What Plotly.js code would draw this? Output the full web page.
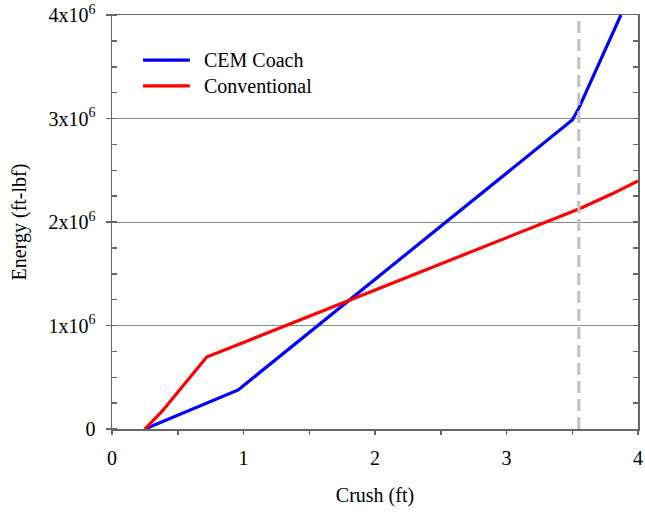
<!DOCTYPE html>
<html>
<head>
<meta charset="utf-8">
<script src="https://cdn.plot.ly/plotly-3.0.1.min.js"></script>
<style>
  html, body { margin: 0; padding: 0; background: #fff; }
  #chart { width: 645px; height: 514px; }
</style>
</head>
<body>
<div id="chart"></div>
<script>
// Energy absorbed vs. crush distance for two car-end designs
const seriesNames = ['CEM Coach', 'Conventional'];

const cemCrush  = [0.25, 0.96, 1.02, 3.50, 3.55, 3.87];
const cemEnergy = [0, 377000, 440000, 2985000, 3100000, 4000000];

const convCrush  = [0.25, 0.378, 0.72, 3.55, 3.80, 4.00];
const convEnergy = [0, 167000, 695000, 2126000, 2270000, 2396000];

// Reference crush distance marked by the dashed line
const refCrush = 3.55;

const yTickVals = [0, 1e6, 2e6, 3e6, 4e6];
const yTickText = ['0', '1x10<sup>6</sup>', '2x10<sup>6</sup>', '3x10<sup>6</sup>', '4x10<sup>6</sup>'];
const xTickVals = [0, 1, 2, 3, 4];
const xTickText = ['0', '1', '2', '3', '4'];

const colors = ['#0000ff', '#ff0000'];
const FONT = '"Liberation Serif", "Times New Roman", Times, serif';
const AXIS_COLOR = '#666666';

const traces = [
  { x: cemCrush, y: cemEnergy, mode: 'lines', name: seriesNames[0],
    line: { color: colors[0], width: 3.2 }, showlegend: false, hoverinfo: 'skip' },
  { x: convCrush, y: convEnergy, mode: 'lines', name: seriesNames[1],
    line: { color: colors[1], width: 3.2 }, showlegend: false, hoverinfo: 'skip' },
  { x: [refCrush, refCrush], y: [0, 4e6], mode: 'lines', showlegend: false,
    line: { color: '#c0c0c0', width: 3, dash: '12px,6px' }, hoverinfo: 'skip' },
  { x: [0, 4], y: [0, 4e6], yaxis: 'y2', mode: 'lines', showlegend: false,
    line: { width: 0 }, opacity: 0, hoverinfo: 'skip' }
];

// Hand-placed key in the upper-left of the plot area
const keyX0 = 0.059, keyX1 = 0.148, keyTextX = 0.171;
const keyY = [0.891, 0.829];
const shapes = seriesNames.map((n, i) => ({
  type: 'line', xref: 'paper', yref: 'paper',
  x0: keyX0, x1: keyX1, y0: keyY[i], y1: keyY[i],
  line: { color: colors[i], width: 3.2 }
}));
const annotations = seriesNames.map((n, i) => ({
  xref: 'paper', yref: 'paper', x: keyTextX, y: keyY[i],
  xanchor: 'left', yanchor: 'middle', text: n, showarrow: false,
  font: { family: FONT, size: 20, color: '#000' }
}));

const layout = {
  width: 645, height: 514,
  margin: { l: 112, r: 7, t: 15, b: 85 },
  paper_bgcolor: '#ffffff', plot_bgcolor: '#ffffff',
  font: { family: FONT, size: 20, color: '#000' },
  showlegend: false,
  xaxis: {
    range: [0, 4], tickmode: 'array', tickvals: xTickVals, ticktext: xTickText,
    ticks: 'outside', ticklen: 4, tickwidth: 1.5, tickcolor: AXIS_COLOR,
    minor: { tickmode: 'linear', tick0: 0, dtick: 0.5, ticks: 'outside', ticklen: 4, tickwidth: 1.5, tickcolor: AXIS_COLOR },
    showline: true, linecolor: AXIS_COLOR, linewidth: 1.5, mirror: true,
    showgrid: false, zeroline: false,
    ticklabelstandoff: 6,
    tickfont: { family: FONT, size: 20, color: '#000' },
    title: { text: 'Crush (ft)', font: { family: FONT, size: 20, color: '#000' }, standoff: 20 }
  },
  yaxis: {
    range: [0, 4e6], tickmode: 'array', tickvals: yTickVals, ticktext: yTickText,
    ticks: 'outside', ticklen: 5, tickwidth: 1.5, tickcolor: AXIS_COLOR,
    minor: { tickmode: 'linear', tick0: 0, dtick: 250000, ticks: 'inside', ticklen: 5, tickwidth: 1.5, tickcolor: AXIS_COLOR },
    showline: true, linecolor: AXIS_COLOR, linewidth: 1.5,
    showgrid: true, gridcolor: '#8a8a8a', gridwidth: 1, zeroline: false,
    ticklabelstandoff: 6,
    tickfont: { family: FONT, size: 20, color: '#000' },
    title: { text: 'Energy (ft-lbf)', font: { family: FONT, size: 20, color: '#000' }, standoff: 16 }
  },
  yaxis2: {
    overlaying: 'y', side: 'right', range: [0, 4e6],
    tickmode: 'linear', tick0: 0, dtick: 250000,
    ticks: 'inside', ticklen: 5, tickwidth: 1.5, tickcolor: AXIS_COLOR,
    showticklabels: false, showgrid: false, zeroline: false,
    showline: true, linecolor: AXIS_COLOR, linewidth: 1.5
  },
  shapes: shapes,
  annotations: annotations
};

Plotly.newPlot('chart', traces, layout, { staticPlot: true, displayModeBar: false });
</script>
</body>
</html>
